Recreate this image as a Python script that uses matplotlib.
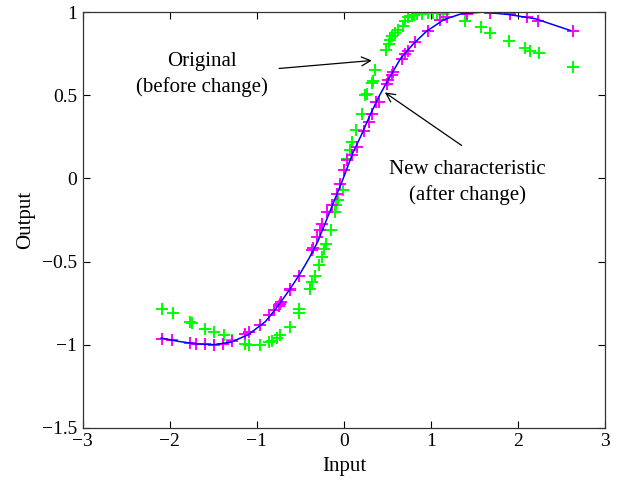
import matplotlib
matplotlib.use('Agg')
import matplotlib.pyplot as plt

plt.rcParams['font.family'] = ['Liberation Serif', 'DejaVu Serif']
plt.rcParams['font.size'] = 14

# Original characteristic (green crosses)
orig_x = [-2.095, -1.969, -1.770, -1.75, -1.602, -1.494, -1.380, -1.284, -1.132, -1.086,
          -0.960, -0.864, -0.826, -0.768, -0.731, -0.623, -0.520, -0.513, -0.386, -0.367,
          -0.329, -0.290, -0.252, -0.226, -0.203, -0.146, -0.100, -0.088, -0.072, -0.011,
          0.034, 0.065, 0.092, 0.141, 0.206, 0.244, 0.264, 0.321, 0.330, 0.359, 0.485,
          0.513, 0.530, 0.550, 0.588, 0.620, 0.677, 0.703, 0.742, 0.780, 0.806, 0.837,
          0.900, 0.971, 1.020, 1.067, 1.143, 1.391, 1.571, 1.678, 1.900, 2.079, 2.136,
          2.244, 2.634]
orig_y = [-0.787, -0.809, -0.861, -0.870, -0.906, -0.925, -0.944, -0.969, -0.998, -1.004,
          -1.004, -0.984, -0.975, -0.957, -0.944, -0.894, -0.807, -0.783, -0.663, -0.623,
          -0.589, -0.523, -0.473, -0.422, -0.392, -0.313, -0.203, -0.162, -0.128, -0.072,
          0.118, 0.168, 0.218, 0.293, 0.389, 0.499, 0.509, 0.575, 0.585, 0.653, 0.773,
          0.809, 0.830, 0.859, 0.873, 0.890, 0.919, 0.945, 0.969, 0.975, 0.980, 0.986,
          0.990, 0.993, 0.995, 0.993, 0.986, 0.945, 0.909, 0.876, 0.829, 0.783, 0.769,
          0.753, 0.669]

# New characteristic samples (magenta crosses)
new_x = [-2.095, -1.972, -1.763, -1.700, -1.591, -1.494, -1.388, -1.284, -1.132, -1.093,
         -0.960, -0.864, -0.806, -0.749, -0.731, -0.722, -0.623, -0.616, -0.520, -0.367,
         -0.350, -0.310, -0.272, -0.252, -0.195, -0.138, -0.080, -0.042, -0.003, 0.034,
         0.092, 0.149, 0.226, 0.283, 0.321, 0.371, 0.398, 0.493, 0.510, 0.550, 0.570,
         0.665, 0.703, 0.742, 0.818, 0.971, 1.104, 1.181, 1.411, 1.678, 1.907, 2.099,
         2.233, 2.634]
new_y = [-0.963, -0.974, -0.990, -0.993, -0.998, -1.004, -0.994, -0.980, -0.938, -0.924,
         -0.883, -0.823, -0.793, -0.769, -0.753, -0.743, -0.673, -0.663, -0.589, -0.433,
         -0.420, -0.353, -0.313, -0.272, -0.203, -0.162, -0.092, -0.032, 0.048, 0.108,
         0.138, 0.188, 0.288, 0.338, 0.389, 0.459, 0.459, 0.569, 0.589, 0.619, 0.639,
         0.719, 0.749, 0.769, 0.819, 0.889, 0.954, 0.969, 0.990, 0.993, 0.986, 0.969,
         0.949, 0.889]

# Fitted new characteristic (blue line)
fit_x = [-2.1, -1.9, -1.7, -1.5, -1.3, -1.1, -0.9, -0.8, -0.7, -0.6, -0.5, -0.4, -0.3,
         -0.2, -0.1, 0.0, 0.1, 0.2, 0.3, 0.4, 0.5, 0.65, 0.8, 0.95, 1.15, 1.35, 1.6,
         1.9, 2.2, 2.6]
fit_y = [-0.96, -0.98, -0.995, -1.0, -0.985, -0.94, -0.86, -0.795, -0.725, -0.65, -0.57,
         -0.48, -0.38, -0.25, -0.12, 0.01, 0.15, 0.26, 0.38, 0.49, 0.585, 0.72, 0.81,
         0.885, 0.955, 0.99, 1.0, 0.985, 0.96, 0.89]

fig = plt.figure(figsize=(6.23, 4.84), dpi=100)
ax = fig.add_axes([0.133, 0.116, 0.838, 0.859])

ax.plot(orig_x, orig_y, '+', color='#00ff00', markersize=9, markeredgewidth=1.4)
ax.plot(new_x, new_y, '+', color='#ff00ff', markersize=9, markeredgewidth=1.4)
ax.plot(fit_x, fit_y, '-', color='#0000ff', linewidth=1.1)

ax.set_xlim(-3, 3)
ax.set_ylim(-1.5, 1)
ax.set_xticks([-3, -2, -1, 0, 1, 2, 3])
ax.set_yticks([-1.5, -1, -0.5, 0, 0.5, 1])
ax.set_yticklabels(['\u22121.5', '\u22121', '\u22120.5', '0', '0.5', '1'])
ax.set_xticklabels(['\u22123', '\u22122', '\u22121', '0', '1', '2', '3'])
ax.tick_params(direction='in', top=True, right=True, length=5, width=0.8,
               labelsize=14, pad=4)
for s in ax.spines.values():
    s.set_linewidth(0.9)
    s.set_color('#333333')

ax.set_xlabel('Input', fontsize=15, labelpad=5)
ax.set_ylabel('Output', fontsize=15, labelpad=5)

# annotation texts and arrows
ax.text(-1.634, 0.625, 'Original\n(before change)', ha='center', va='center',
        fontsize=15, linespacing=1.45)
ax.annotate('', xy=(0.321, 0.709), xytext=(-0.745, 0.661),
            arrowprops=dict(arrowstyle='->', color='black', lw=0.9,
                            shrinkA=0, shrinkB=0, mutation_scale=16))
ax.text(1.422, -0.025, 'New characteristic\n(after change)', ha='center', va='center',
        fontsize=15, linespacing=1.35)
ax.annotate('', xy=(0.470, 0.517), xytext=(1.353, 0.198),
            arrowprops=dict(arrowstyle='->', color='black', lw=0.9,
                            shrinkA=0, shrinkB=0, mutation_scale=16))

fig.savefig('out.png', dpi=100)
